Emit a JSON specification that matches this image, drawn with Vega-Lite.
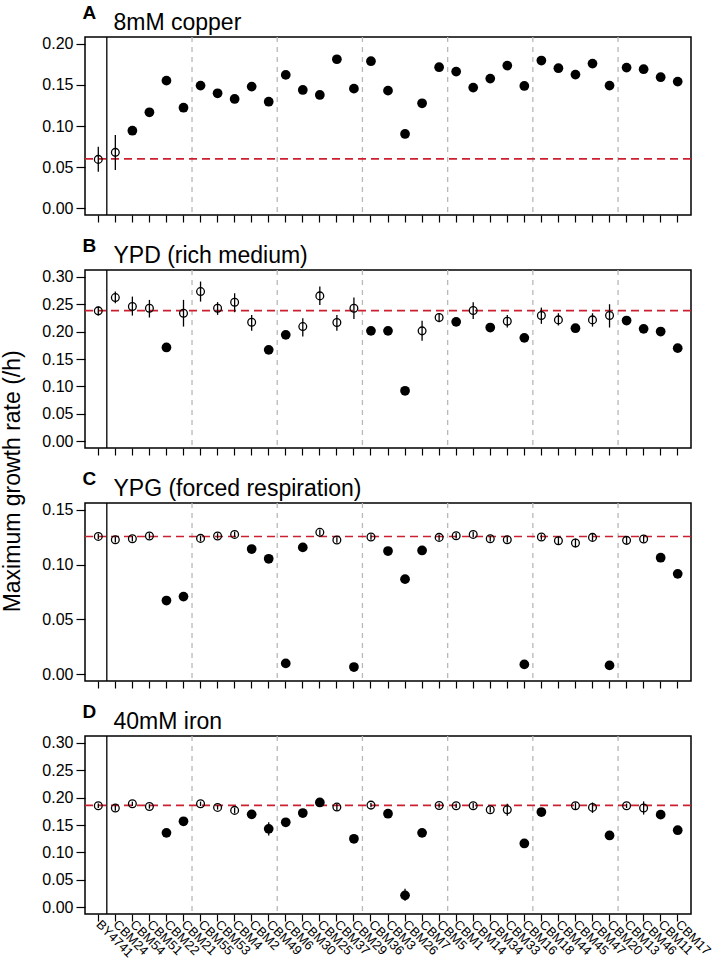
{
  "$schema": "https://vega.github.io/schema/vega-lite/v6.json",
  "background": "white",
  "padding": {"left": 2, "top": 2, "right": 0, "bottom": 0},
  "config": {
    "font": "Liberation Sans",
    "view": {"stroke": "black", "strokeWidth": 1.5},
    "axis": {"labelColor": "black", "tickColor": "black", "titleColor": "black", "grid": false, "domain": false, "tickWidth": 1.2},
    "axisY": {"titleAngle": 0, "titleX": -3, "titleY": -19, "titleAlign": "left", "titleBaseline": "alphabetic", "titleFontSize": 19, "titleFontWeight": "bold", "format": ".2f", "labelFontSize": 16, "labelOverlap": false, "tickSize": 9, "labelPadding": 3},
    "axisX": {"titleX": 28, "titleY": -186, "titleAlign": "left", "titleBaseline": "alphabetic", "titleFontSize": 23, "titleFontWeight": "normal", "tickSize": 7}
  },
  "title": {"text": "Maximum growth rate (/h)", "orient": "left", "anchor": "middle", "fontSize": 23, "fontWeight": "normal", "offset": 16, "color": "black"},
  "spacing": 11,
  "datasets": {
    "growth": [
      {"cond":"A","strain":"BY4741","rate":0.0595,"lo":0.0446,"hi":0.0749,"sig":0},
      {"cond":"A","strain":"CBM24","rate":0.068,"lo":0.0465,"hi":0.089,"sig":0},
      {"cond":"A","strain":"CBM54","rate":0.0943,"sig":1},
      {"cond":"A","strain":"CBM51","rate":0.1166,"sig":1},
      {"cond":"A","strain":"CBM22","rate":0.155,"sig":1},
      {"cond":"A","strain":"CBM21","rate":0.1222,"sig":1},
      {"cond":"A","strain":"CBM55","rate":0.149,"sig":1},
      {"cond":"A","strain":"CBM53","rate":0.1397,"sig":1},
      {"cond":"A","strain":"CBM4","rate":0.1328,"sig":1},
      {"cond":"A","strain":"CBM2","rate":0.1478,"sig":1},
      {"cond":"A","strain":"CBM49","rate":0.1295,"sig":1},
      {"cond":"A","strain":"CBM6","rate":0.162,"sig":1},
      {"cond":"A","strain":"CBM30","rate":0.1437,"sig":1},
      {"cond":"A","strain":"CBM25","rate":0.1377,"sig":1},
      {"cond":"A","strain":"CBM37","rate":0.181,"sig":1},
      {"cond":"A","strain":"CBM29","rate":0.1453,"sig":1},
      {"cond":"A","strain":"CBM36","rate":0.1786,"sig":1},
      {"cond":"A","strain":"CBM3","rate":0.1429,"sig":1},
      {"cond":"A","strain":"CBM26","rate":0.0903,"sig":1},
      {"cond":"A","strain":"CBM7","rate":0.1276,"sig":1},
      {"cond":"A","strain":"CBM5","rate":0.1713,"sig":1},
      {"cond":"A","strain":"CBM1","rate":0.166,"sig":1},
      {"cond":"A","strain":"CBM14","rate":0.1466,"sig":1},
      {"cond":"A","strain":"CBM34","rate":0.1575,"sig":1},
      {"cond":"A","strain":"CBM33","rate":0.1733,"sig":1},
      {"cond":"A","strain":"CBM16","rate":0.1486,"sig":1},
      {"cond":"A","strain":"CBM18","rate":0.1794,"sig":1},
      {"cond":"A","strain":"CBM44","rate":0.1701,"sig":1},
      {"cond":"A","strain":"CBM45","rate":0.1624,"sig":1},
      {"cond":"A","strain":"CBM47","rate":0.1757,"sig":1},
      {"cond":"A","strain":"CBM20","rate":0.149,"sig":1},
      {"cond":"A","strain":"CBM13","rate":0.1709,"sig":1},
      {"cond":"A","strain":"CBM46","rate":0.1689,"sig":1},
      {"cond":"A","strain":"CBM11","rate":0.1592,"sig":1},
      {"cond":"A","strain":"CBM17","rate":0.1539,"sig":1},

      {"cond":"B","strain":"BY4741","rate":0.2376,"lo":0.229,"hi":0.2455,"sig":0},
      {"cond":"B","strain":"CBM24","rate":0.2618,"lo":0.2516,"hi":0.2727,"sig":0},
      {"cond":"B","strain":"CBM54","rate":0.2455,"lo":0.229,"hi":0.2636,"sig":0},
      {"cond":"B","strain":"CBM51","rate":0.2424,"lo":0.2255,"hi":0.2576,"sig":0},
      {"cond":"B","strain":"CBM22","rate":0.171,"sig":1},
      {"cond":"B","strain":"CBM21","rate":0.2333,"lo":0.209,"hi":0.2576,"sig":0},
      {"cond":"B","strain":"CBM55","rate":0.2727,"lo":0.2545,"hi":0.291,"sig":0},
      {"cond":"B","strain":"CBM53","rate":0.2424,"lo":0.2303,"hi":0.2535,"sig":0},
      {"cond":"B","strain":"CBM4","rate":0.2533,"lo":0.2352,"hi":0.2697,"sig":0},
      {"cond":"B","strain":"CBM2","rate":0.217,"lo":0.2012,"hi":0.2303,"sig":0},
      {"cond":"B","strain":"CBM49","rate":0.1667,"sig":1},
      {"cond":"B","strain":"CBM6","rate":0.194,"sig":1},
      {"cond":"B","strain":"CBM30","rate":0.209,"lo":0.191,"hi":0.2243,"sig":0},
      {"cond":"B","strain":"CBM25","rate":0.2649,"lo":0.2485,"hi":0.2818,"sig":0},
      {"cond":"B","strain":"CBM37","rate":0.2164,"lo":0.2012,"hi":0.2303,"sig":0},
      {"cond":"B","strain":"CBM29","rate":0.2424,"lo":0.223,"hi":0.2618,"sig":0},
      {"cond":"B","strain":"CBM36","rate":0.2012,"sig":1},
      {"cond":"B","strain":"CBM3","rate":0.2012,"sig":1},
      {"cond":"B","strain":"CBM26","rate":0.0921,"sig":1},
      {"cond":"B","strain":"CBM7","rate":0.2012,"lo":0.183,"hi":0.2194,"sig":0},
      {"cond":"B","strain":"CBM5","rate":0.2255,"lo":0.217,"hi":0.2333,"sig":0},
      {"cond":"B","strain":"CBM1","rate":0.2176,"sig":1},
      {"cond":"B","strain":"CBM14","rate":0.2382,"lo":0.223,"hi":0.2535,"sig":0},
      {"cond":"B","strain":"CBM34","rate":0.2073,"sig":1},
      {"cond":"B","strain":"CBM33","rate":0.2188,"lo":0.2073,"hi":0.2303,"sig":0},
      {"cond":"B","strain":"CBM16","rate":0.1885,"sig":1},
      {"cond":"B","strain":"CBM18","rate":0.2291,"lo":0.214,"hi":0.2436,"sig":0},
      {"cond":"B","strain":"CBM44","rate":0.2212,"lo":0.211,"hi":0.2333,"sig":0},
      {"cond":"B","strain":"CBM45","rate":0.2061,"sig":1},
      {"cond":"B","strain":"CBM47","rate":0.2212,"lo":0.209,"hi":0.2333,"sig":0},
      {"cond":"B","strain":"CBM20","rate":0.2291,"lo":0.2073,"hi":0.2497,"sig":0},
      {"cond":"B","strain":"CBM13","rate":0.22,"sig":1},
      {"cond":"B","strain":"CBM46","rate":0.2049,"sig":1},
      {"cond":"B","strain":"CBM11","rate":0.2,"sig":1},
      {"cond":"B","strain":"CBM17","rate":0.1697,"sig":1},

      {"cond":"C","strain":"BY4741","rate":0.1256,"lo":0.1231,"hi":0.1281,"sig":0},
      {"cond":"C","strain":"CBM24","rate":0.1226,"lo":0.1201,"hi":0.1251,"sig":0},
      {"cond":"C","strain":"CBM54","rate":0.1235,"lo":0.121,"hi":0.126,"sig":0},
      {"cond":"C","strain":"CBM51","rate":0.126,"lo":0.1235,"hi":0.1285,"sig":0},
      {"cond":"C","strain":"CBM22","rate":0.0672,"sig":1},
      {"cond":"C","strain":"CBM21","rate":0.0708,"sig":1},
      {"cond":"C","strain":"CBM55","rate":0.1238,"lo":0.1213,"hi":0.1263,"sig":0},
      {"cond":"C","strain":"CBM53","rate":0.126,"lo":0.1235,"hi":0.1285,"sig":0},
      {"cond":"C","strain":"CBM4","rate":0.1274,"lo":0.1249,"hi":0.1299,"sig":0},
      {"cond":"C","strain":"CBM2","rate":0.1141,"sig":1},
      {"cond":"C","strain":"CBM49","rate":0.1052,"sig":1},
      {"cond":"C","strain":"CBM6","rate":0.01,"sig":1},
      {"cond":"C","strain":"CBM30","rate":0.1156,"sig":1},
      {"cond":"C","strain":"CBM25","rate":0.1293,"lo":0.1268,"hi":0.1318,"sig":0},
      {"cond":"C","strain":"CBM37","rate":0.1223,"lo":0.1198,"hi":0.1248,"sig":0},
      {"cond":"C","strain":"CBM29","rate":0.0067,"sig":1},
      {"cond":"C","strain":"CBM36","rate":0.125,"lo":0.1225,"hi":0.1275,"sig":0},
      {"cond":"C","strain":"CBM3","rate":0.1123,"sig":1},
      {"cond":"C","strain":"CBM26","rate":0.0867,"sig":1},
      {"cond":"C","strain":"CBM7","rate":0.1128,"sig":1},
      {"cond":"C","strain":"CBM5","rate":0.1247,"lo":0.1222,"hi":0.1272,"sig":0},
      {"cond":"C","strain":"CBM1","rate":0.1262,"lo":0.1237,"hi":0.1287,"sig":0},
      {"cond":"C","strain":"CBM14","rate":0.1274,"lo":0.1249,"hi":0.1299,"sig":0},
      {"cond":"C","strain":"CBM34","rate":0.1235,"lo":0.121,"hi":0.126,"sig":0},
      {"cond":"C","strain":"CBM33","rate":0.1226,"lo":0.1201,"hi":0.1251,"sig":0},
      {"cond":"C","strain":"CBM16","rate":0.0091,"sig":1},
      {"cond":"C","strain":"CBM18","rate":0.125,"lo":0.1225,"hi":0.1275,"sig":0},
      {"cond":"C","strain":"CBM44","rate":0.1217,"lo":0.1182,"hi":0.1252,"sig":0},
      {"cond":"C","strain":"CBM45","rate":0.1196,"lo":0.1156,"hi":0.1236,"sig":0},
      {"cond":"C","strain":"CBM47","rate":0.1247,"lo":0.1217,"hi":0.1277,"sig":0},
      {"cond":"C","strain":"CBM20","rate":0.0082,"sig":1},
      {"cond":"C","strain":"CBM13","rate":0.122,"lo":0.119,"hi":0.125,"sig":0},
      {"cond":"C","strain":"CBM46","rate":0.1232,"lo":0.1202,"hi":0.1262,"sig":0},
      {"cond":"C","strain":"CBM11","rate":0.1062,"sig":1},
      {"cond":"C","strain":"CBM17","rate":0.0915,"sig":1},

      {"cond":"D","strain":"BY4741","rate":0.185,"lo":0.181,"hi":0.189,"sig":0},
      {"cond":"D","strain":"CBM24","rate":0.1808,"lo":0.1758,"hi":0.1858,"sig":0},
      {"cond":"D","strain":"CBM54","rate":0.1886,"lo":0.1846,"hi":0.1926,"sig":0},
      {"cond":"D","strain":"CBM51","rate":0.1838,"lo":0.1798,"hi":0.1878,"sig":0},
      {"cond":"D","strain":"CBM22","rate":0.1357,"lo":0.1317,"hi":0.1397,"sig":1},
      {"cond":"D","strain":"CBM21","rate":0.1567,"sig":1},
      {"cond":"D","strain":"CBM55","rate":0.1886,"lo":0.1846,"hi":0.1926,"sig":0},
      {"cond":"D","strain":"CBM53","rate":0.182,"lo":0.178,"hi":0.186,"sig":0},
      {"cond":"D","strain":"CBM4","rate":0.1766,"lo":0.1716,"hi":0.1816,"sig":0},
      {"cond":"D","strain":"CBM2","rate":0.1694,"sig":1},
      {"cond":"D","strain":"CBM49","rate":0.143,"lo":0.131,"hi":0.155,"sig":1},
      {"cond":"D","strain":"CBM6","rate":0.155,"sig":1},
      {"cond":"D","strain":"CBM30","rate":0.1718,"sig":1},
      {"cond":"D","strain":"CBM25","rate":0.191,"sig":1},
      {"cond":"D","strain":"CBM37","rate":0.1826,"lo":0.1766,"hi":0.1886,"sig":0},
      {"cond":"D","strain":"CBM29","rate":0.1249,"sig":1},
      {"cond":"D","strain":"CBM36","rate":0.1862,"lo":0.1822,"hi":0.1902,"sig":0},
      {"cond":"D","strain":"CBM3","rate":0.1706,"sig":1},
      {"cond":"D","strain":"CBM26","rate":0.022,"lo":0.012,"hi":0.034,"sig":1},
      {"cond":"D","strain":"CBM7","rate":0.1357,"sig":1},
      {"cond":"D","strain":"CBM5","rate":0.1856,"lo":0.1816,"hi":0.1896,"sig":0},
      {"cond":"D","strain":"CBM1","rate":0.185,"lo":0.181,"hi":0.189,"sig":0},
      {"cond":"D","strain":"CBM14","rate":0.185,"lo":0.18,"hi":0.19,"sig":0},
      {"cond":"D","strain":"CBM34","rate":0.1778,"lo":0.1728,"hi":0.1828,"sig":0},
      {"cond":"D","strain":"CBM33","rate":0.1778,"lo":0.167,"hi":0.1886,"sig":0},
      {"cond":"D","strain":"CBM16","rate":0.1164,"sig":1},
      {"cond":"D","strain":"CBM18","rate":0.1736,"sig":1},
      {"cond":"D","strain":"CBM45","rate":0.185,"lo":0.179,"hi":0.191,"sig":0},
      {"cond":"D","strain":"CBM47","rate":0.182,"lo":0.172,"hi":0.191,"sig":0},
      {"cond":"D","strain":"CBM20","rate":0.1309,"sig":1},
      {"cond":"D","strain":"CBM13","rate":0.185,"lo":0.181,"hi":0.189,"sig":0},
      {"cond":"D","strain":"CBM46","rate":0.181,"lo":0.169,"hi":0.193,"sig":0},
      {"cond":"D","strain":"CBM11","rate":0.1688,"sig":1},
      {"cond":"D","strain":"CBM17","rate":0.1405,"sig":1}
    ],
    "seps": [
      {"strain":"CBM24","kind":"solid"},
      {"strain":"CBM55","kind":"dash"},
      {"strain":"CBM6","kind":"dash"},
      {"strain":"CBM36","kind":"dash"},
      {"strain":"CBM1","kind":"dash"},
      {"strain":"CBM18","kind":"dash"},
      {"strain":"CBM13","kind":"dash"}
    ],
    "refs": [
      {"cond":"A","ref":0.06},
      {"cond":"B","ref":0.238},
      {"cond":"C","ref":0.1255},
      {"cond":"D","ref":0.1856}
    ]
  },
  "vconcat": [
    {
      "width": 606, "height": 178,
      "layer": [
        {"data": {"name": "seps"}, "transform": [{"filter": "datum.kind === 'solid'"}],
         "mark": {"type": "rule", "color": "black", "strokeWidth": 1.3},
         "encoding": {"x": {"field": "strain", "type": "nominal", "bandPosition": 0,
            "scale": {"type": "band", "domain": ["BY4741","CBM24","CBM54","CBM51","CBM22","CBM21","CBM55","CBM53","CBM4","CBM2","CBM49","CBM6","CBM30","CBM25","CBM37","CBM29","CBM36","CBM3","CBM26","CBM7","CBM5","CBM1","CBM14","CBM34","CBM33","CBM16","CBM18","CBM44","CBM45","CBM47","CBM20","CBM13","CBM46","CBM11","CBM17"], "paddingInner": 0, "paddingOuter": 0.28},
            "axis": {"title": "8mM copper", "labels": false}}}},
        {"data": {"name": "seps"}, "transform": [{"filter": "datum.kind === 'dash'"}],
         "mark": {"type": "rule", "color": "#b8b8b8", "strokeWidth": 1.3, "strokeDash": [5, 5]},
         "encoding": {"x": {"field": "strain", "type": "nominal", "bandPosition": 0, "axis": {"title": "8mM copper", "labels": false}}}},
        {"data": {"name": "refs"}, "transform": [{"filter": "datum.cond === 'A'"}],
         "mark": {"type": "rule", "color": "#cc2030", "strokeWidth": 1.7, "strokeDash": [8, 5]},
         "encoding": {"y": {"field": "ref", "type": "quantitative",
            "scale": {"domain": [-0.008, 0.208], "nice": false, "zero": false},
            "axis": {"title": "A", "values": [0, 0.05, 0.1, 0.15, 0.2]}}}},
        {"data": {"name": "growth"}, "transform": [{"filter": "datum.cond === 'A' && isValid(datum.lo)"}],
         "mark": {"type": "rule", "color": "black", "strokeWidth": 1.3},
         "encoding": {"x": {"field": "strain", "type": "nominal", "axis": {"title": "8mM copper", "labels": false}},
           "y": {"field": "lo", "type": "quantitative", "scale": {"domain": [-0.008, 0.208], "nice": false, "zero": false}, "axis": {"title": "A", "values": [0, 0.05, 0.1, 0.15, 0.2]}}, "y2": {"field": "hi"}}},
        {"data": {"name": "growth"}, "transform": [{"filter": "datum.cond === 'A' && datum.sig === 0"}],
         "mark": {"type": "point", "shape": "circle", "filled": false, "stroke": "black", "strokeWidth": 1.3, "size": 60, "opacity": 1},
         "encoding": {"x": {"field": "strain", "type": "nominal", "axis": {"title": "8mM copper", "labels": false}},
           "y": {"field": "rate", "type": "quantitative", "scale": {"domain": [-0.008, 0.208], "nice": false, "zero": false}, "axis": {"title": "A", "values": [0, 0.05, 0.1, 0.15, 0.2]}}}},
        {"data": {"name": "growth"}, "transform": [{"filter": "datum.cond === 'A' && datum.sig === 1"}],
         "mark": {"type": "circle", "color": "black", "size": 95, "opacity": 1},
         "encoding": {"x": {"field": "strain", "type": "nominal", "axis": {"title": "8mM copper", "labels": false}},
           "y": {"field": "rate", "type": "quantitative", "scale": {"domain": [-0.008, 0.208], "nice": false, "zero": false}, "axis": {"title": "A", "values": [0, 0.05, 0.1, 0.15, 0.2]}}}}
      ]
    },
    {
      "width": 606, "height": 178,
      "layer": [
        {"data": {"name": "seps"}, "transform": [{"filter": "datum.kind === 'solid'"}],
         "mark": {"type": "rule", "color": "black", "strokeWidth": 1.3},
         "encoding": {"x": {"field": "strain", "type": "nominal", "bandPosition": 0,
            "scale": {"type": "band", "domain": ["BY4741","CBM24","CBM54","CBM51","CBM22","CBM21","CBM55","CBM53","CBM4","CBM2","CBM49","CBM6","CBM30","CBM25","CBM37","CBM29","CBM36","CBM3","CBM26","CBM7","CBM5","CBM1","CBM14","CBM34","CBM33","CBM16","CBM18","CBM44","CBM45","CBM47","CBM20","CBM13","CBM46","CBM11","CBM17"], "paddingInner": 0, "paddingOuter": 0.28},
            "axis": {"title": "YPD (rich medium)", "labels": false}}}},
        {"data": {"name": "seps"}, "transform": [{"filter": "datum.kind === 'dash'"}],
         "mark": {"type": "rule", "color": "#b8b8b8", "strokeWidth": 1.3, "strokeDash": [5, 5]},
         "encoding": {"x": {"field": "strain", "type": "nominal", "bandPosition": 0, "axis": {"title": "YPD (rich medium)", "labels": false}}}},
        {"data": {"name": "refs"}, "transform": [{"filter": "datum.cond === 'B'"}],
         "mark": {"type": "rule", "color": "#cc2030", "strokeWidth": 1.7, "strokeDash": [8, 5]},
         "encoding": {"y": {"field": "ref", "type": "quantitative",
            "scale": {"domain": [-0.012, 0.312], "nice": false, "zero": false},
            "axis": {"title": "B", "values": [0, 0.05, 0.1, 0.15, 0.2, 0.25, 0.3]}}}},
        {"data": {"name": "growth"}, "transform": [{"filter": "datum.cond === 'B' && isValid(datum.lo)"}],
         "mark": {"type": "rule", "color": "black", "strokeWidth": 1.3},
         "encoding": {"x": {"field": "strain", "type": "nominal", "axis": {"title": "YPD (rich medium)", "labels": false}},
           "y": {"field": "lo", "type": "quantitative", "scale": {"domain": [-0.012, 0.312], "nice": false, "zero": false}, "axis": {"title": "B", "values": [0, 0.05, 0.1, 0.15, 0.2, 0.25, 0.3]}}, "y2": {"field": "hi"}}},
        {"data": {"name": "growth"}, "transform": [{"filter": "datum.cond === 'B' && datum.sig === 0"}],
         "mark": {"type": "point", "shape": "circle", "filled": false, "stroke": "black", "strokeWidth": 1.3, "size": 60, "opacity": 1},
         "encoding": {"x": {"field": "strain", "type": "nominal", "axis": {"title": "YPD (rich medium)", "labels": false}},
           "y": {"field": "rate", "type": "quantitative", "scale": {"domain": [-0.012, 0.312], "nice": false, "zero": false}, "axis": {"title": "B", "values": [0, 0.05, 0.1, 0.15, 0.2, 0.25, 0.3]}}}},
        {"data": {"name": "growth"}, "transform": [{"filter": "datum.cond === 'B' && datum.sig === 1"}],
         "mark": {"type": "circle", "color": "black", "size": 95, "opacity": 1},
         "encoding": {"x": {"field": "strain", "type": "nominal", "axis": {"title": "YPD (rich medium)", "labels": false}},
           "y": {"field": "rate", "type": "quantitative", "scale": {"domain": [-0.012, 0.312], "nice": false, "zero": false}, "axis": {"title": "B", "values": [0, 0.05, 0.1, 0.15, 0.2, 0.25, 0.3]}}}}
      ]
    },
    {
      "width": 606, "height": 178,
      "layer": [
        {"data": {"name": "seps"}, "transform": [{"filter": "datum.kind === 'solid'"}],
         "mark": {"type": "rule", "color": "black", "strokeWidth": 1.3},
         "encoding": {"x": {"field": "strain", "type": "nominal", "bandPosition": 0,
            "scale": {"type": "band", "domain": ["BY4741","CBM24","CBM54","CBM51","CBM22","CBM21","CBM55","CBM53","CBM4","CBM2","CBM49","CBM6","CBM30","CBM25","CBM37","CBM29","CBM36","CBM3","CBM26","CBM7","CBM5","CBM1","CBM14","CBM34","CBM33","CBM16","CBM18","CBM44","CBM45","CBM47","CBM20","CBM13","CBM46","CBM11","CBM17"], "paddingInner": 0, "paddingOuter": 0.28},
            "axis": {"title": "YPG (forced respiration)", "labels": false}}}},
        {"data": {"name": "seps"}, "transform": [{"filter": "datum.kind === 'dash'"}],
         "mark": {"type": "rule", "color": "#b8b8b8", "strokeWidth": 1.3, "strokeDash": [5, 5]},
         "encoding": {"x": {"field": "strain", "type": "nominal", "bandPosition": 0, "axis": {"title": "YPG (forced respiration)", "labels": false}}}},
        {"data": {"name": "refs"}, "transform": [{"filter": "datum.cond === 'C'"}],
         "mark": {"type": "rule", "color": "#cc2030", "strokeWidth": 1.7, "strokeDash": [8, 5]},
         "encoding": {"y": {"field": "ref", "type": "quantitative",
            "scale": {"domain": [-0.006, 0.156], "nice": false, "zero": false},
            "axis": {"title": "C", "values": [0, 0.05, 0.1, 0.15]}}}},
        {"data": {"name": "growth"}, "transform": [{"filter": "datum.cond === 'C' && isValid(datum.lo)"}],
         "mark": {"type": "rule", "color": "black", "strokeWidth": 1.3},
         "encoding": {"x": {"field": "strain", "type": "nominal", "axis": {"title": "YPG (forced respiration)", "labels": false}},
           "y": {"field": "lo", "type": "quantitative", "scale": {"domain": [-0.006, 0.156], "nice": false, "zero": false}, "axis": {"title": "C", "values": [0, 0.05, 0.1, 0.15]}}, "y2": {"field": "hi"}}},
        {"data": {"name": "growth"}, "transform": [{"filter": "datum.cond === 'C' && datum.sig === 0"}],
         "mark": {"type": "point", "shape": "circle", "filled": false, "stroke": "black", "strokeWidth": 1.3, "size": 60, "opacity": 1},
         "encoding": {"x": {"field": "strain", "type": "nominal", "axis": {"title": "YPG (forced respiration)", "labels": false}},
           "y": {"field": "rate", "type": "quantitative", "scale": {"domain": [-0.006, 0.156], "nice": false, "zero": false}, "axis": {"title": "C", "values": [0, 0.05, 0.1, 0.15]}}}},
        {"data": {"name": "growth"}, "transform": [{"filter": "datum.cond === 'C' && datum.sig === 1"}],
         "mark": {"type": "circle", "color": "black", "size": 95, "opacity": 1},
         "encoding": {"x": {"field": "strain", "type": "nominal", "axis": {"title": "YPG (forced respiration)", "labels": false}},
           "y": {"field": "rate", "type": "quantitative", "scale": {"domain": [-0.006, 0.156], "nice": false, "zero": false}, "axis": {"title": "C", "values": [0, 0.05, 0.1, 0.15]}}}}
      ]
    },
    {
      "width": 606, "height": 178,
      "layer": [
        {"data": {"name": "seps"}, "transform": [{"filter": "datum.kind === 'solid'"}],
         "mark": {"type": "rule", "color": "black", "strokeWidth": 1.3},
         "encoding": {"x": {"field": "strain", "type": "nominal", "bandPosition": 0,
            "scale": {"type": "band", "domain": ["BY4741","CBM24","CBM54","CBM51","CBM22","CBM21","CBM55","CBM53","CBM4","CBM2","CBM49","CBM6","CBM30","CBM25","CBM37","CBM29","CBM36","CBM3","CBM26","CBM7","CBM5","CBM1","CBM14","CBM34","CBM33","CBM16","CBM18","CBM44","CBM45","CBM47","CBM20","CBM13","CBM46","CBM11","CBM17"], "paddingInner": 0, "paddingOuter": 0.28},
            "axis": {"title": "40mM iron", "labels": true, "labelAngle": 45, "labelAlign": "left", "labelBaseline": "middle", "labelFontSize": 13, "labelPadding": 1, "labelOverlap": false, "labelBound": false, "labelFlush": false}}}},
        {"data": {"name": "seps"}, "transform": [{"filter": "datum.kind === 'dash'"}],
         "mark": {"type": "rule", "color": "#b8b8b8", "strokeWidth": 1.3, "strokeDash": [5, 5]},
         "encoding": {"x": {"field": "strain", "type": "nominal", "bandPosition": 0, "axis": {"title": "40mM iron", "labels": true, "labelAngle": 45, "labelAlign": "left", "labelBaseline": "middle", "labelFontSize": 13, "labelPadding": 1, "labelOverlap": false, "labelBound": false, "labelFlush": false}}}},
        {"data": {"name": "refs"}, "transform": [{"filter": "datum.cond === 'D'"}],
         "mark": {"type": "rule", "color": "#cc2030", "strokeWidth": 1.7, "strokeDash": [8, 5]},
         "encoding": {"y": {"field": "ref", "type": "quantitative",
            "scale": {"domain": [-0.012, 0.312], "nice": false, "zero": false},
            "axis": {"title": "D", "values": [0, 0.05, 0.1, 0.15, 0.2, 0.25, 0.3]}}}},
        {"data": {"name": "growth"}, "transform": [{"filter": "datum.cond === 'D' && isValid(datum.lo)"}],
         "mark": {"type": "rule", "color": "black", "strokeWidth": 1.3},
         "encoding": {"x": {"field": "strain", "type": "nominal", "axis": {"title": "40mM iron", "labels": true, "labelAngle": 45, "labelAlign": "left", "labelBaseline": "middle", "labelFontSize": 13, "labelPadding": 1, "labelOverlap": false, "labelBound": false, "labelFlush": false}},
           "y": {"field": "lo", "type": "quantitative", "scale": {"domain": [-0.012, 0.312], "nice": false, "zero": false}, "axis": {"title": "D", "values": [0, 0.05, 0.1, 0.15, 0.2, 0.25, 0.3]}}, "y2": {"field": "hi"}}},
        {"data": {"name": "growth"}, "transform": [{"filter": "datum.cond === 'D' && datum.sig === 0"}],
         "mark": {"type": "point", "shape": "circle", "filled": false, "stroke": "black", "strokeWidth": 1.3, "size": 60, "opacity": 1},
         "encoding": {"x": {"field": "strain", "type": "nominal", "axis": {"title": "40mM iron", "labels": true, "labelAngle": 45, "labelAlign": "left", "labelBaseline": "middle", "labelFontSize": 13, "labelPadding": 1, "labelOverlap": false, "labelBound": false, "labelFlush": false}},
           "y": {"field": "rate", "type": "quantitative", "scale": {"domain": [-0.012, 0.312], "nice": false, "zero": false}, "axis": {"title": "D", "values": [0, 0.05, 0.1, 0.15, 0.2, 0.25, 0.3]}}}},
        {"data": {"name": "growth"}, "transform": [{"filter": "datum.cond === 'D' && datum.sig === 1"}],
         "mark": {"type": "circle", "color": "black", "size": 95, "opacity": 1},
         "encoding": {"x": {"field": "strain", "type": "nominal", "axis": {"title": "40mM iron", "labels": true, "labelAngle": 45, "labelAlign": "left", "labelBaseline": "middle", "labelFontSize": 13, "labelPadding": 1, "labelOverlap": false, "labelBound": false, "labelFlush": false}},
           "y": {"field": "rate", "type": "quantitative", "scale": {"domain": [-0.012, 0.312], "nice": false, "zero": false}, "axis": {"title": "D", "values": [0, 0.05, 0.1, 0.15, 0.2, 0.25, 0.3]}}}}
      ]
    }
  ]
}
